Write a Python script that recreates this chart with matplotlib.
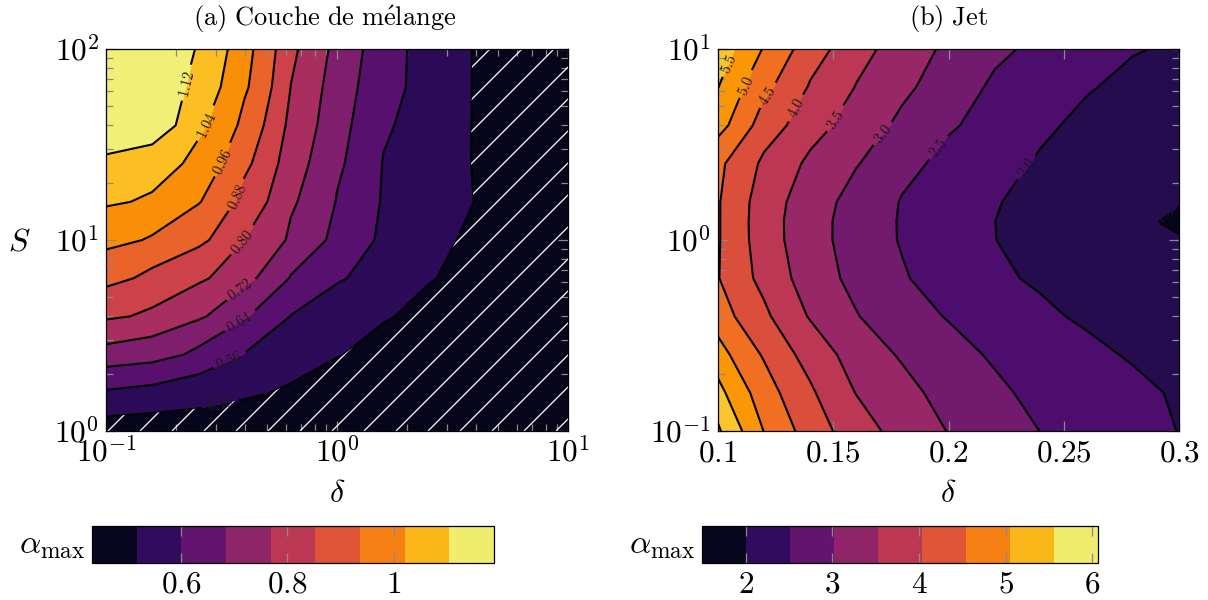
import numpy as np
import matplotlib
matplotlib.use("Agg")
import matplotlib.pyplot as plt
from matplotlib.colors import ListedColormap, BoundaryNorm
from matplotlib.collections import LineCollection
from matplotlib.cm import ScalarMappable
import matplotlib.ticker as mticker

plt.rcParams["mathtext.fontset"] = "cm"
plt.rcParams["font.family"] = ["DejaVu Serif"]

# ---------------- data : (a) Couche de mélange ----------------
delta_a = [0.1, 0.1585, 0.2512, 0.3981, 0.631, 1.0, 1.585, 2.512, 3.981, 6.31, 10.0]
S_a = [1.0, 1.585, 2.512, 3.981, 6.31, 10.0, 15.85, 25.12, 39.81, 63.1, 100.0]
alpha_a = [
    [0.445, 0.440, 0.440, 0.440, 0.440, 0.440, 0.440, 0.440, 0.440, 0.440, 0.440],
    [0.551, 0.537, 0.515, 0.490, 0.470, 0.460, 0.455, 0.450, 0.445, 0.440, 0.440],
    [0.693, 0.673, 0.621, 0.557, 0.518, 0.482, 0.465, 0.455, 0.450, 0.445, 0.440],
    [0.812, 0.786, 0.732, 0.647, 0.558, 0.521, 0.484, 0.465, 0.455, 0.450, 0.440],
    [0.905, 0.859, 0.814, 0.743, 0.635, 0.568, 0.524, 0.483, 0.460, 0.450, 0.440],
    [0.983, 0.952, 0.899, 0.801, 0.707, 0.614, 0.544, 0.497, 0.465, 0.450, 0.440],
    [1.050, 1.029, 0.965, 0.853, 0.731, 0.636, 0.553, 0.517, 0.478, 0.450, 0.440],
    [1.105, 1.080, 1.014, 0.898, 0.754, 0.653, 0.557, 0.517, 0.475, 0.450, 0.440],
    [1.180, 1.170, 1.059, 0.937, 0.778, 0.665, 0.570, 0.520, 0.475, 0.450, 0.440],
    [1.190, 1.185, 1.090, 0.972, 0.799, 0.675, 0.586, 0.526, 0.475, 0.450, 0.440],
    [1.190, 1.180, 1.114, 0.987, 0.816, 0.693, 0.589, 0.526, 0.475, 0.450, 0.440],
]
fill_levels_a = [0.40, 0.48, 0.56, 0.64, 0.72, 0.80, 0.88, 0.96, 1.04, 1.12, 1.20]
line_levels_a = [0.48, 0.56, 0.64, 0.72, 0.80, 0.88, 0.96, 1.04, 1.12]
label_pos_a = [(0.312, 1.37), (0.345, 2.26), (0.375, 3.73), (0.382, 5.47),
               (0.394, 9.59), (0.375, 16.8), (0.318, 25.7), (0.272, 40.0),
               (0.225, 64.9)]
cbar_bounds_a = [0.433, 0.517, 0.601, 0.685, 0.769, 0.852, 0.936, 1.020, 1.104, 1.188]
cbar_ticks_a = [0.6, 0.8, 1.0]
cbar_ticklabels_a = ["0.6", "0.8", "1"]

# ---------------- data : (b) Jet ----------------
delta_b = [0.10, 0.12, 0.14, 0.16, 0.18, 0.20, 0.22, 0.24, 0.26, 0.28, 0.30]
S_b = [0.1, 0.1585, 0.2512, 0.3981, 0.631, 1.0, 1.259, 1.585, 2.512, 3.981, 6.31, 10.0]
alpha_b = [
    [6.07, 4.984, 4.268, 3.725, 3.314, 2.983, 2.736, 2.493, 2.327, 2.160, 1.99],
    [5.65, 4.719, 4.071, 3.483, 3.138, 2.842, 2.579, 2.391, 2.236, 2.081, 1.96],
    [5.19, 4.441, 3.788, 3.293, 2.941, 2.674, 2.439, 2.266, 2.093, 1.960, 1.88],
    [4.73, 4.095, 3.457, 3.022, 2.732, 2.465, 2.273, 2.081, 1.930, 1.830, 1.73],
    [4.52, 3.838, 3.267, 2.857, 2.538, 2.305, 2.084, 1.930, 1.820, 1.700, 1.60],
    [4.54, 3.737, 3.196, 2.790, 2.461, 2.233, 2.005, 1.880, 1.760, 1.630, 1.52],
    [4.54, 3.727, 3.196, 2.791, 2.457, 2.230, 2.002, 1.870, 1.720, 1.550, 1.45],
    [4.54, 3.750, 3.237, 2.825, 2.471, 2.245, 2.020, 1.900, 1.780, 1.650, 1.52],
    [4.61, 3.907, 3.403, 3.030, 2.646, 2.362, 2.140, 1.960, 1.850, 1.750, 1.65],
    [5.21, 4.268, 3.722, 3.276, 2.897, 2.563, 2.310, 2.075, 1.900, 1.820, 1.72],
    [5.51, 4.645, 3.957, 3.481, 3.111, 2.737, 2.428, 2.232, 2.037, 1.880, 1.75],
    [5.82, 4.962, 4.243, 3.691, 3.264, 2.904, 2.605, 2.386, 2.211, 2.035, 1.93],
]
fill_levels_b = [1.0, 1.5, 2.0, 2.5, 3.0, 3.5, 4.0, 4.5, 5.0, 5.5, 6.0, 6.5]
line_levels_b = [1.5, 2.0, 2.5, 3.0, 3.5, 4.0, 4.5, 5.0, 5.5, 6.0]
label_levels_b = [1.5, 2.0, 2.5, 3.0, 3.5, 4.0, 4.5, 5.0, 5.5]
label_pos_b = [(0.292, 1.47), (0.231, 2.52), (0.194, 3.15), (0.170, 3.70),
               (0.150, 4.33), (0.135, 4.79), (0.122, 5.62), (0.111, 6.49),
               (0.105, 8.32)]
cbar_bounds_b = [1.49, 2.0, 2.51, 3.02, 3.53, 4.03, 4.54, 5.05, 5.56, 6.07]
cbar_ticks_b = [2, 3, 4, 5, 6]
cbar_ticklabels_b = ["2", "3", "4", "5", "6"]

# ---------------- styling ----------------
FIG_W, FIG_H = 1208, 600
GRAY = "#8a8a8a"
TICK_FS = 22.5
LAB_FS = 23
ALPHA_FS = 24
TITLE_FS = 19
CLABEL_FS = 10.5

inferno = plt.get_cmap("inferno")


def band_colors(n):
    return [inferno((k + 0.5) / n) for k in range(n)]


fig = plt.figure(figsize=(FIG_W / 100, FIG_H / 100), dpi=100)


def px_axes(x0, y0, x1, y1):
    return fig.add_axes([x0 / FIG_W, 1 - y1 / FIG_H, (x1 - x0) / FIG_W, (y1 - y0) / FIG_H])


def style_axes(ax):
    for sp in ax.spines.values():
        sp.set_linewidth(0.9)
        sp.set_color("black")
    ax.tick_params(which="both", direction="in", top=True, right=True,
                   color=GRAY, width=0.9)
    ax.tick_params(which="major", length=7, labelsize=TICK_FS, pad=5)
    ax.tick_params(which="minor", length=5)


def math_labels(lst):
    return ["$" + s + "$" for s in lst]


# ---------- panel (a) ----------
axA = px_axes(106, 49, 568, 431)
Xa, Ya = np.meshgrid(delta_a, S_a)
Za = np.array(alpha_a)
cfA = axA.contourf(Xa, Ya, Za, levels=fill_levels_a, colors=band_colors(len(fill_levels_a) - 1))
csA = axA.contour(Xa, Ya, Za, levels=line_levels_a, colors="black", linewidths=1.5)
axA.set_xscale("log")
axA.set_yscale("log")
axA.set_xlim(0.1, 10)
axA.set_ylim(1, 100)
axA.clabel(csA, levels=line_levels_a, manual=label_pos_a, inline=True, fontsize=CLABEL_FS,
           fmt=lambda v: "$%.2f$" % v, colors="#1a1a1a")

# hatching over the lowest band
hatch_path = cfA.get_paths()[0]
ax_w, ax_h = 568 - 106, 431 - 49
spacing = 32.0 / ax_w
segs = []
x0 = -ax_h / ax_w - spacing
while x0 < 1.0 + spacing:
    segs.append([(x0, 0.0), (x0 + ax_h / ax_w, 1.0)])
    x0 += spacing
lc = LineCollection(segs, colors="white", linewidths=0.9, transform=axA.transAxes, zorder=2.5)
lc.set_clip_path(hatch_path, axA.transData)
axA.add_collection(lc, autolim=False)

style_axes(axA)
axA.xaxis.set_major_locator(mticker.FixedLocator([0.1, 1, 10]))
axA.xaxis.set_major_formatter(mticker.FixedFormatter(math_labels(["10^{-1}", "10^{0}", "10^{1}"])))
axA.yaxis.set_major_locator(mticker.FixedLocator([1, 10, 100]))
axA.yaxis.set_major_formatter(mticker.FixedFormatter(math_labels(["10^{0}", "10^{1}", "10^{2}"])))
axA.xaxis.set_minor_locator(mticker.LogLocator(base=10, subs=np.arange(2, 10)))
axA.yaxis.set_minor_locator(mticker.LogLocator(base=10, subs=np.arange(2, 10)))
axA.xaxis.set_minor_formatter(mticker.NullFormatter())
axA.yaxis.set_minor_formatter(mticker.NullFormatter())

# ---------- panel (b) ----------
axB = px_axes(718, 49, 1179, 431)
Xb, Yb = np.meshgrid(delta_b, S_b)
Zb = np.array(alpha_b)
cfB = axB.contourf(Xb, Yb, Zb, levels=fill_levels_b, colors=band_colors(len(fill_levels_b) - 1))
csB = axB.contour(Xb, Yb, Zb, levels=line_levels_b, colors="black", linewidths=1.5)
axB.set_yscale("log")
axB.set_xlim(0.1, 0.3)
axB.set_ylim(0.1, 10)
axB.clabel(csB, levels=label_levels_b, manual=label_pos_b, inline=True, fontsize=CLABEL_FS,
           fmt=lambda v: "$%.1f$" % v, colors="#1a1a1a")
style_axes(axB)
axB.xaxis.set_major_locator(mticker.FixedLocator([0.1, 0.15, 0.2, 0.25, 0.3]))
axB.xaxis.set_major_formatter(mticker.FixedFormatter(math_labels(["0.1", "0.15", "0.2", "0.25", "0.3"])))
axB.yaxis.set_major_locator(mticker.FixedLocator([0.1, 1, 10]))
axB.yaxis.set_major_formatter(mticker.FixedFormatter(math_labels(["10^{-1}", "10^{0}", "10^{1}"])))
axB.yaxis.set_minor_locator(mticker.LogLocator(base=10, subs=np.arange(2, 10)))
axB.yaxis.set_minor_formatter(mticker.NullFormatter())
axB.xaxis.set_minor_locator(mticker.NullLocator())


# ---------- colorbars ----------
def make_cbar(x0, x1, bounds, ticks, ticklabels):
    cax = px_axes(x0, 526, x1, 563)
    n = len(bounds) - 1
    cmap = ListedColormap(band_colors(n))
    norm = BoundaryNorm(bounds, n)
    cb = fig.colorbar(ScalarMappable(norm=norm, cmap=cmap), cax=cax, orientation="horizontal")
    cb.outline.set_linewidth(0.9)
    cb.set_ticks(ticks)
    cb.set_ticklabels(math_labels(ticklabels))
    cax.tick_params(axis="x", direction="in", top=True, bottom=True, color=GRAY,
                    length=7, width=0.9, labelsize=TICK_FS, pad=4)
    cax.minorticks_off()
    return cax


make_cbar(92, 494, cbar_bounds_a, cbar_ticks_a, cbar_ticklabels_a)
make_cbar(702, 1098, cbar_bounds_b, cbar_ticks_b, cbar_ticklabels_b)


def ftext(x, y, s, **kw):
    fig.text(x / FIG_W, 1 - y / FIG_H, s, ha="center", va="center", **kw)


ftext(325, 19, r"$\mathrm{(a)\ Couche\ de\ m\acute{e}lange}$", fontsize=TITLE_FS)
ftext(948, 19, r"$\mathrm{(b)\ Jet}$", fontsize=TITLE_FS)
ftext(19, 242, r"$S$", fontsize=LAB_FS)
ftext(337, 494, r"$\delta$", fontsize=LAB_FS)
ftext(948, 494, r"$\delta$", fontsize=LAB_FS)
ftext(52, 545, r"$\alpha_{\mathrm{max}}$", fontsize=ALPHA_FS)
ftext(662, 545, r"$\alpha_{\mathrm{max}}$", fontsize=ALPHA_FS)

fig.savefig("out.png", dpi=100)
